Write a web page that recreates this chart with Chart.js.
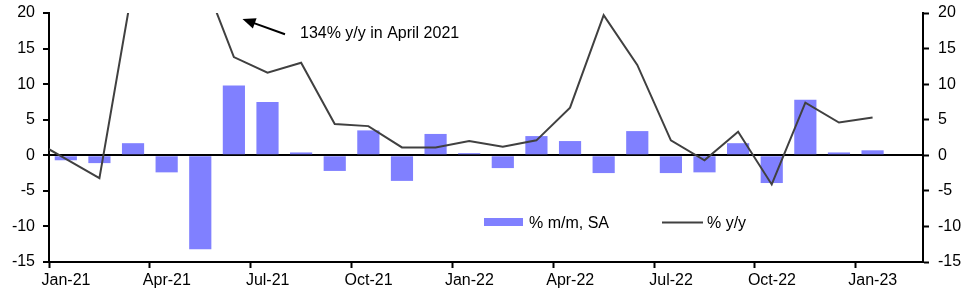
<!DOCTYPE html>
<html>
<head>
<meta charset="utf-8">
<script src="https://cdn.jsdelivr.net/npm/chart.js@4/dist/chart.umd.min.js"></script>
<style>
  html, body { margin: 0; padding: 0; background: #fff; }
  #wrap { width: 970px; height: 291px; }
</style>
</head>
<body>
<div id="wrap"><canvas id="chart" width="970" height="291"></canvas></div>
<script>
// monthly data, Jan-21 .. Jan-23
const months = ['Jan-21','Feb-21','Mar-21','Apr-21','May-21','Jun-21','Jul-21','Aug-21','Sep-21','Oct-21','Nov-21','Dec-21',
                'Jan-22','Feb-22','Mar-22','Apr-22','May-22','Jun-22','Jul-22','Aug-22','Sep-22','Oct-22','Nov-22','Dec-22','Jan-23'];
const momSA = [-0.7, -1.1, 1.7, -2.4, -13.2, 9.8, 7.5, 0.4, -2.2, 3.5, -3.6, 3.0,
               0.3, -1.8, 2.7, 2.0, -2.5, 3.4, -2.5, -2.4, 1.7, -3.9, 7.8, 0.4, 0.7];
// y/y series, the Dec-20 value only shows as the line entering from the left edge
const yoyDec20 = 2.2;
const yoy = [-0.5, -3.2, 24, 134, 26, 13.8, 11.6, 13.0, 4.4, 4.1, 1.1, 1.1,
             2.0, 1.2, 2.1, 6.7, 19.7, 12.7, 2.1, -0.7, 3.3, -4.1, 7.4, 4.6, 5.3];
const tickLabels = ['Jan-21','Apr-21','Jul-21','Oct-21','Jan-22','Apr-22','Jul-22','Oct-22','Jan-23'];

const FONT = "'Liberation Sans', Arial, sans-serif";

// month i sits in the middle of its slot
const barPoints = momSA.map((v, i) => ({x: i + 0.5, y: v}));
const linePoints = [{x: -0.5, y: yoyDec20}].concat(yoy.map((v, i) => ({x: i + 0.5, y: v})));

const extras = {
    id: 'extras',
    afterDraw(chart) {
        const ctx = chart.ctx;
        ctx.save();
        ctx.font = '16px ' + FONT;
        ctx.fillStyle = '#000';
        ctx.textBaseline = 'alphabetic';

        // annotation
        ctx.strokeStyle = '#000';
        ctx.lineWidth = 2;
        const tx = 285, ty = 34.3, hx = 242.5, hy = 19;
        const ang = Math.atan2(hy - ty, hx - tx);
        ctx.beginPath();
        ctx.moveTo(tx, ty);
        ctx.lineTo(hx - 10 * Math.cos(ang), hy - 10 * Math.sin(ang));
        ctx.stroke();
        ctx.beginPath();
        ctx.moveTo(hx, hy);
        ctx.lineTo(hx - 13 * Math.cos(ang) + 5.5 * Math.sin(ang), hy - 13 * Math.sin(ang) - 5.5 * Math.cos(ang));
        ctx.lineTo(hx - 13 * Math.cos(ang) - 5.5 * Math.sin(ang), hy - 13 * Math.sin(ang) + 5.5 * Math.cos(ang));
        ctx.closePath();
        ctx.fill();
        ctx.fillText('134% y/y in April 2021', 300, 37.5);

        // legend
        ctx.fillStyle = '#8080ff';
        ctx.fillRect(484, 218, 39, 8);
        ctx.fillStyle = '#000';
        ctx.fillText('% m/m, SA', 529, 228);
        ctx.strokeStyle = '#404040';
        ctx.beginPath();
        ctx.moveTo(662, 222.5);
        ctx.lineTo(703, 222.5);
        ctx.stroke();
        ctx.fillText('% y/y', 707, 228);
        ctx.restore();
    }
};

const data = {
    datasets: [{
        type: 'line',
        label: '% y/y',
        data: linePoints,
        borderColor: '#404040',
        borderWidth: 2,
        pointRadius: 0,
        tension: 0,
        order: 0
    }, {
        type: 'bar',
        label: '% m/m, SA',
        data: barPoints,
        backgroundColor: '#8080ff',
        barPercentage: 0.66,
        categoryPercentage: 1,
        order: 1
    }]
};

const yTicks = {
    color: '#000',
    font: { size: 16, family: FONT },
    stepSize: 5
};

function fitY(width) {
    return scale => {
        scale.width = width;
        scale.paddingTop = 0;
        scale.paddingBottom = 0;
    };
}

const options = {
    responsive: false,
    animation: false,
    devicePixelRatio: 1,
    layout: { padding: { top: 13, left: 0, right: 0, bottom: 0 } },
    plugins: {
        legend: { display: false },
        tooltip: { enabled: false }
    },
    scales: {
        x: {
            type: 'linear',
            min: 0,
            max: 26,
            offset: false,
            afterBuildTicks: scale => { scale.ticks = tickLabels.map((t, i) => ({value: i * 3})); },
            afterFit: scale => { scale.height = 29; },
            ticks: {
                color: '#000',
                font: { size: 16, family: FONT },
                autoSkip: false,
                maxRotation: 0,
                labelOffset: 17,
                padding: 3,
                callback: (v, i) => tickLabels[i]
            },
            grid: { offset: false, drawOnChartArea: false, tickLength: 6, tickColor: '#000', tickWidth: 2 },
            border: { color: '#000', width: 2 }
        },
        y: {
            position: 'left',
            min: -15,
            max: 20,
            z: 1,
            afterFit: fitY(49),
            ticks: Object.assign({ padding: 8 }, yTicks),
            grid: {
                color: c => c.tick && c.tick.value === 0 ? '#000' : 'rgba(0,0,0,0)',
                lineWidth: 2,
                tickLength: 6,
                tickColor: '#000',
                tickWidth: 2
            },
            border: { color: '#000', width: 2 }
        },
        y1: {
            position: 'right',
            min: -15,
            max: 20,
            afterFit: fitY(47),
            ticks: Object.assign({ padding: 9 }, yTicks),
            grid: { drawOnChartArea: false, tickLength: 6, tickColor: '#000', tickWidth: 2 },
            border: { color: '#000', width: 2 }
        }
    }
};

new Chart('chart', { data, options, plugins: [extras] });
</script>
</body>
</html>
